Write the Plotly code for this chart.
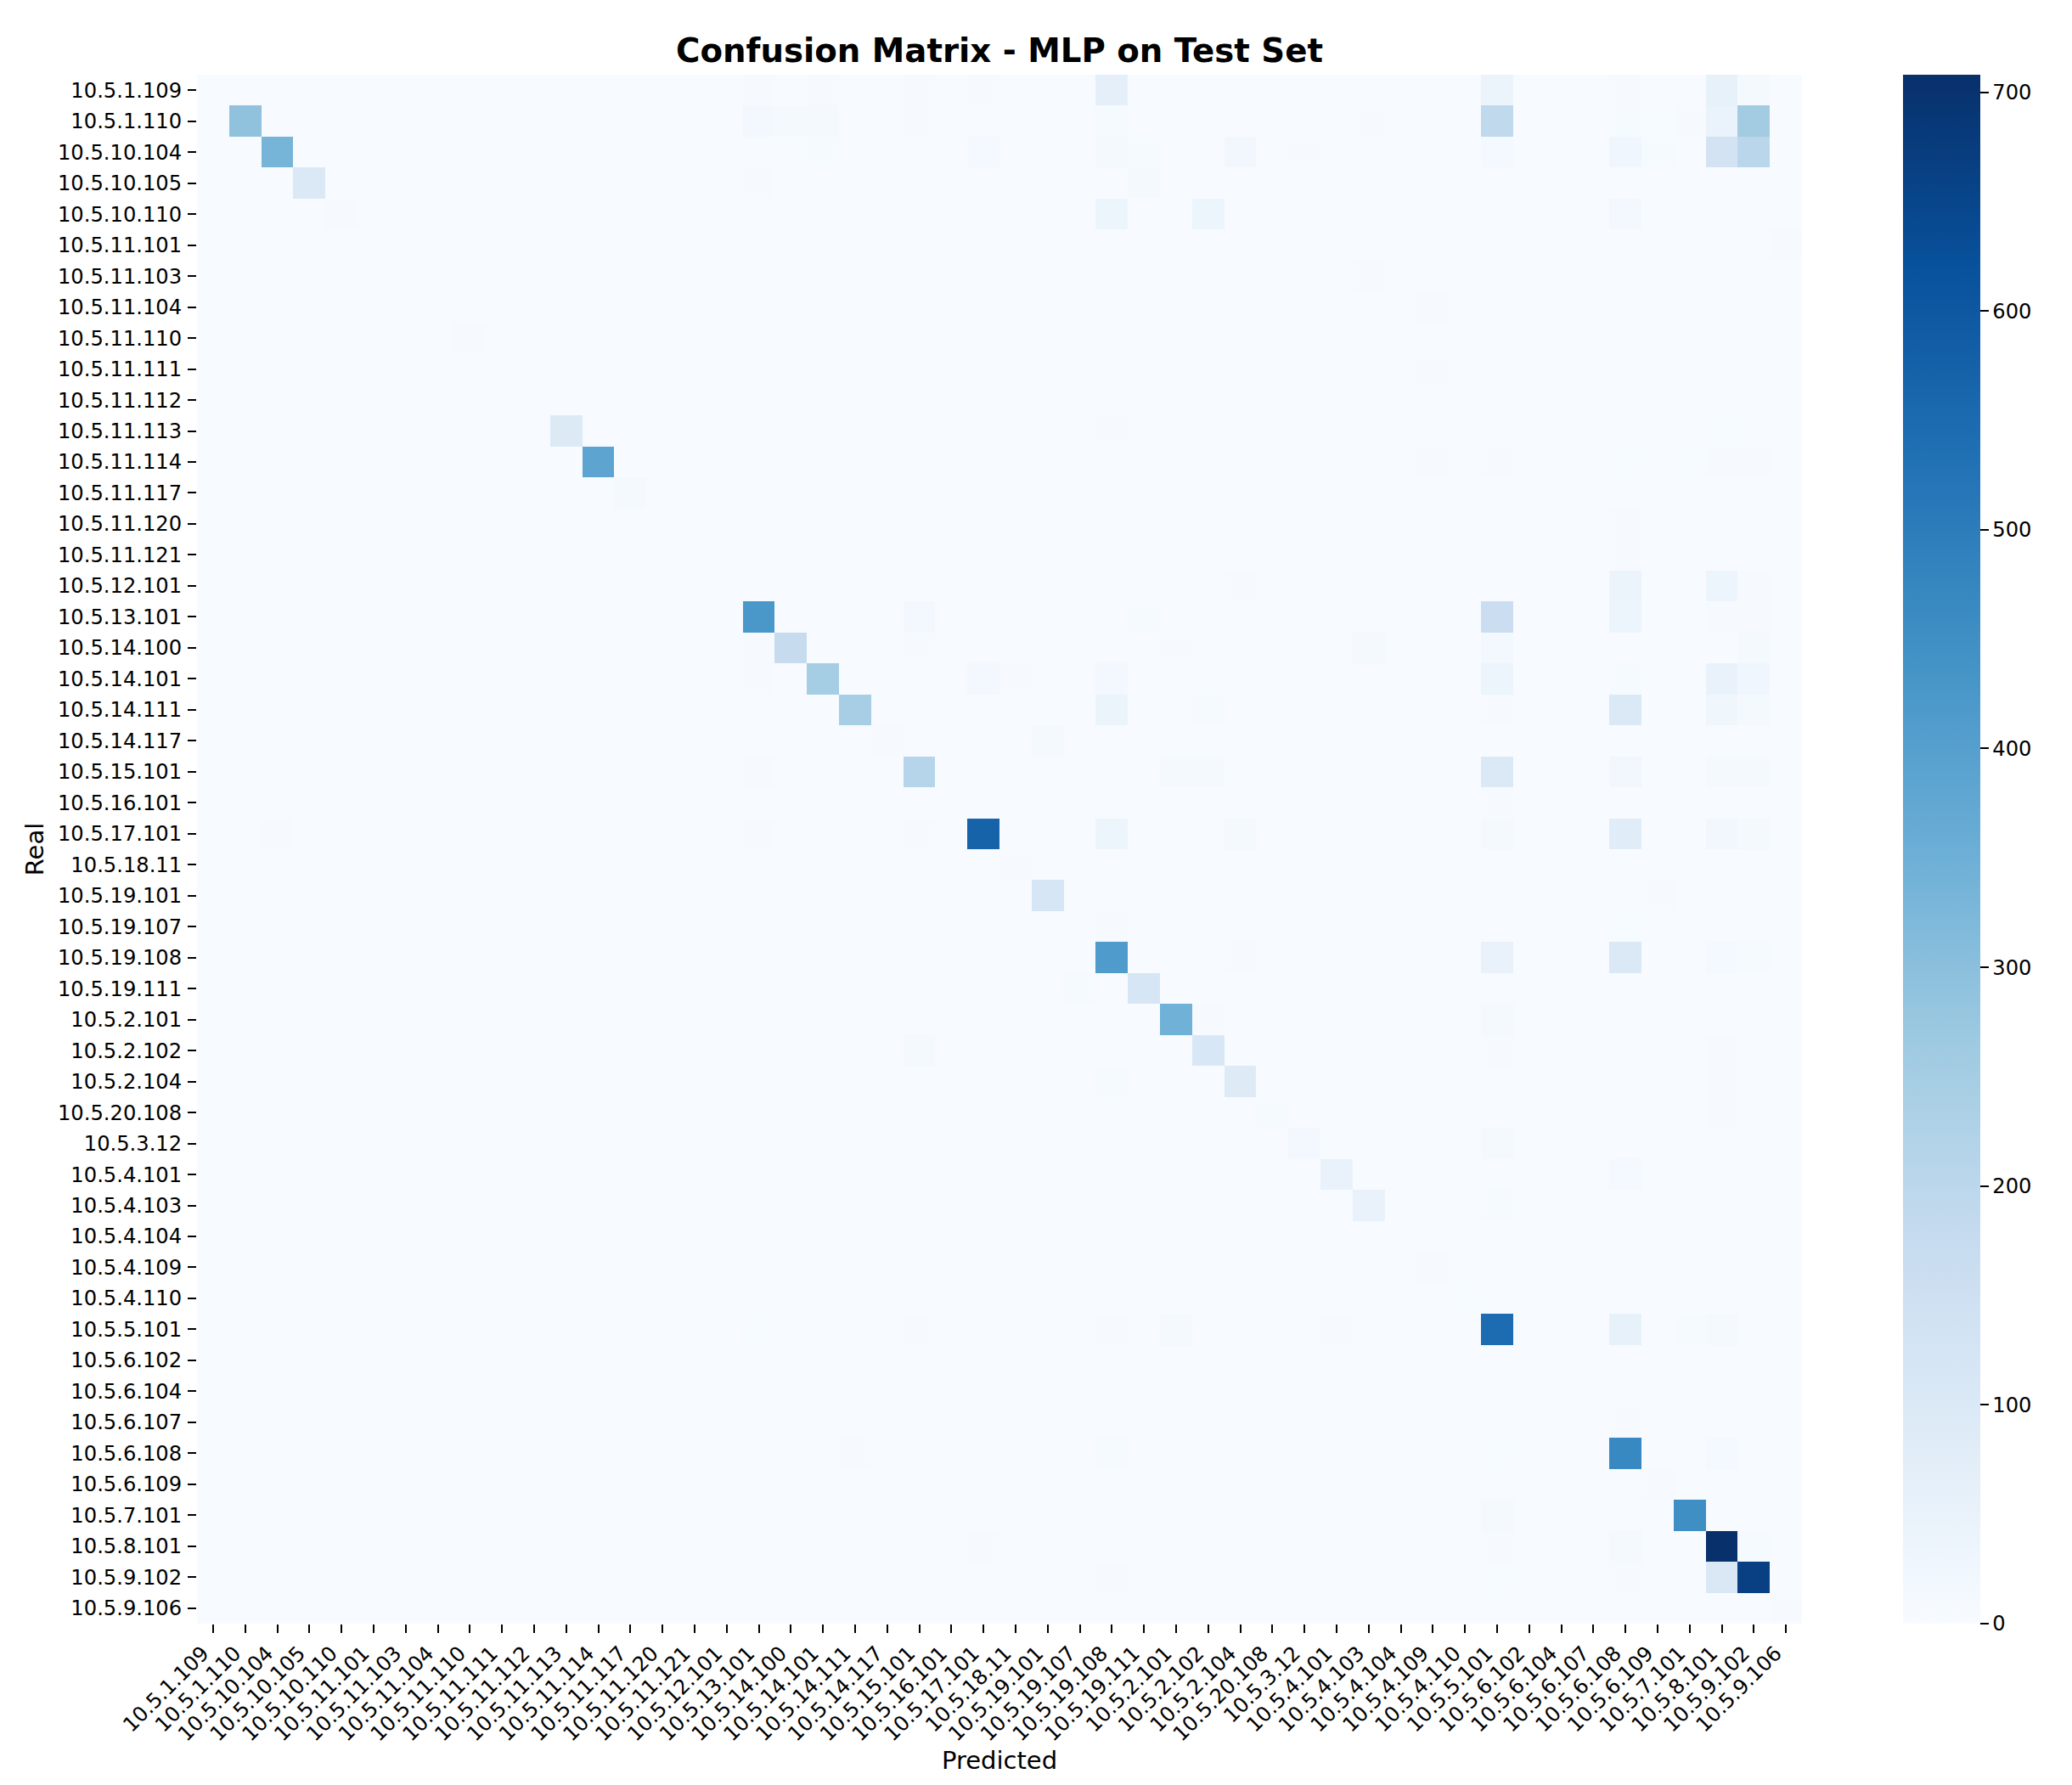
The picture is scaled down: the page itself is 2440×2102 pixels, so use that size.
import numpy as np
import plotly.graph_objects as go

labels = [
    "10.5.1.109", "10.5.1.110", "10.5.10.104", "10.5.10.105", "10.5.10.110",
    "10.5.11.101", "10.5.11.103", "10.5.11.104", "10.5.11.110", "10.5.11.111",
    "10.5.11.112", "10.5.11.113", "10.5.11.114", "10.5.11.117", "10.5.11.120",
    "10.5.11.121", "10.5.12.101", "10.5.13.101", "10.5.14.100", "10.5.14.101",
    "10.5.14.111", "10.5.14.117", "10.5.15.101", "10.5.16.101", "10.5.17.101",
    "10.5.18.11", "10.5.19.101", "10.5.19.107", "10.5.19.108", "10.5.19.111",
    "10.5.2.101", "10.5.2.102", "10.5.2.104", "10.5.20.108", "10.5.3.12",
    "10.5.4.101", "10.5.4.103", "10.5.4.104", "10.5.4.109", "10.5.4.110",
    "10.5.5.101", "10.5.6.102", "10.5.6.104", "10.5.6.107", "10.5.6.108",
    "10.5.6.109", "10.5.7.101", "10.5.8.101", "10.5.9.102", "10.5.9.106",
]

# Non-zero cells of the confusion matrix, listed row by row: {column index: count}
row_00 = {17: 3, 19: 4, 22: 3, 24: 3, 28: 65, 40: 40, 44: 3, 47: 55, 48: 9}
row_01 = {1: 290, 17: 14, 18: 11, 19: 12, 22: 5, 28: 8, 36: 5, 40: 190, 44: 8, 45: 2, 46: 4, 47: 45, 48: 255}
row_02 = {2: 335, 19: 8, 24: 13, 28: 10, 29: 6, 32: 20, 34: 4, 40: 13, 44: 25, 45: 6, 47: 130, 48: 205}
row_03 = {3: 100, 17: 4, 29: 12}
row_04 = {4: 5, 28: 35, 31: 38, 44: 14}
row_05 = {49: 3}
row_06 = {36: 5}
row_07 = {38: 5}
row_08 = {8: 4}
row_09 = {38: 4}
row_10 = {}
row_11 = {11: 95, 28: 5, 47: 2}
row_12 = {12: 385, 38: 3, 40: 5, 44: 2, 46: 2, 47: 3, 48: 4}
row_13 = {13: 10}
row_14 = {44: 3}
row_15 = {44: 4}
row_16 = {32: 3, 44: 40, 47: 35, 48: 5}
row_17 = {17: 425, 22: 16, 29: 6, 40: 160, 44: 35, 47: 3, 48: 3}
row_18 = {17: 3, 18: 175, 22: 5, 30: 4, 36: 12, 40: 14, 48: 10}
row_19 = {17: 3, 19: 250, 24: 14, 25: 5, 28: 15, 40: 38, 44: 8, 47: 50, 48: 25}
row_20 = {20: 245, 28: 42, 31: 6, 40: 4, 44: 100, 47: 30, 48: 9}
row_21 = {21: 5, 26: 10}
row_22 = {17: 3, 22: 210, 30: 10, 31: 11, 40: 100, 44: 20, 47: 10, 48: 12}
row_23 = {40: 4}
row_24 = {2: 3, 17: 4, 22: 4, 24: 570, 28: 38, 32: 12, 40: 12, 44: 82, 47: 22, 48: 10}
row_25 = {25: 4}
row_26 = {26: 115, 45: 4}
row_27 = {28: 4, 44: 2}
row_28 = {28: 415, 32: 4, 40: 48, 44: 100, 47: 13, 48: 7}
row_29 = {27: 6, 29: 115}
row_30 = {30: 345, 31: 3, 40: 12}
row_31 = {22: 10, 31: 110, 40: 5, 47: 5}
row_32 = {28: 7, 32: 90, 47: 5}
row_33 = {33: 8, 47: 5}
row_34 = {34: 14, 40: 9}
row_35 = {35: 50, 44: 13}
row_36 = {36: 50, 40: 6}
row_37 = {}
row_38 = {38: 3}
row_39 = {39: 2}
row_40 = {17: 2, 22: 5, 28: 5, 30: 11, 35: 4, 40: 545, 44: 55, 46: 6, 47: 10}
row_41 = {}
row_42 = {}
row_43 = {44: 4}
row_44 = {20: 4, 28: 6, 40: 2, 44: 470, 47: 13}
row_45 = {45: 3}
row_46 = {40: 10, 46: 450}
row_47 = {24: 4, 40: 3, 44: 10, 47: 708, 48: 6}
row_48 = {28: 4, 40: 2, 44: 3, 47: 105, 48: 665}
row_49 = {49: 3}

rows = [
    row_00, row_01, row_02, row_03, row_04, row_05, row_06, row_07, row_08, row_09,
    row_10, row_11, row_12, row_13, row_14, row_15, row_16, row_17, row_18, row_19,
    row_20, row_21, row_22, row_23, row_24, row_25, row_26, row_27, row_28, row_29,
    row_30, row_31, row_32, row_33, row_34, row_35, row_36, row_37, row_38, row_39,
    row_40, row_41, row_42, row_43, row_44, row_45, row_46, row_47, row_48, row_49,
]

z = np.zeros((len(labels), len(labels)))
for i, row in enumerate(rows):
    for j, count in row.items():
        z[i, j] = count

blues = ["#f7fbff", "#deebf7", "#c6dbef", "#9ecae1", "#6baed6",
         "#4292c6", "#2171b5", "#08519c", "#08306b"]
colorscale = [[i / 8, c] for i, c in enumerate(blues)]

FONT = "DejaVu Sans"
W, H = 2432, 2094  # the page adds an 8 px body margin on the top and left
L, R, T, B = 224, 2114, 80, 1904
TICK = 24.2
LABEL = 29

fig = go.Figure(go.Heatmap(
    z=z, x=labels, y=labels,
    colorscale=colorscale, zmin=0, zmax=708,
    colorbar=dict(
        x=(2233 - L) / (R - L), xanchor="left", xpad=0, ypad=0,
        y=0.5, yanchor="middle", len=1, lenmode="fraction",
        thickness=91, thicknessmode="pixels", outlinewidth=0,
        tickmode="array", tickvals=[0, 100, 200, 300, 400, 500, 600, 700],
        ticks="outside", ticklen=10, tickwidth=1.5, tickcolor="black",
        tickprefix="\u2009",
        tickfont=dict(family=FONT, size=TICK, color="black"),
    ),
))

fig.update_layout(
    width=W, height=H,
    margin=dict(l=L, r=W - R, t=T, b=H - B, autoexpand=False),
    paper_bgcolor="white", plot_bgcolor="white",
    font=dict(family=FONT, color="black"),
    title=dict(
        text="<b>Confusion Matrix - MLP on Test Set</b>",
        x=(L + R) / 2 / W, xanchor="center", xref="container",
        y=1 - 51 / H, yanchor="middle", yref="container",
        font=dict(family=FONT, size=38.7, color="black"),
    ),
    xaxis=dict(
        type="category", tickmode="array", tickvals=labels, ticktext=labels,
        tickangle=-45, ticks="outside", ticklen=10, tickwidth=1.5, tickcolor="black",
        ticklabelshift=-12,
        tickfont=dict(family=FONT, size=TICK, color="black"),
        showgrid=False, zeroline=False, showline=False, automargin=False,
        title=dict(text="Predicted", font=dict(family=FONT, size=LABEL, color="black"), standoff=5),
    ),
    yaxis=dict(
        type="category", tickmode="array", tickvals=labels, ticktext=labels,
        autorange="reversed", ticks="outside", ticklen=10, tickwidth=1.5, tickcolor="black",
        ticklabelstandoff=2,
        tickfont=dict(family=FONT, size=TICK, color="black"),
        showgrid=False, zeroline=False, showline=False, automargin=False,
        title=dict(text="Real", font=dict(family=FONT, size=LABEL, color="black"), standoff=7),
    ),
)

fig.write_html("out.html")
